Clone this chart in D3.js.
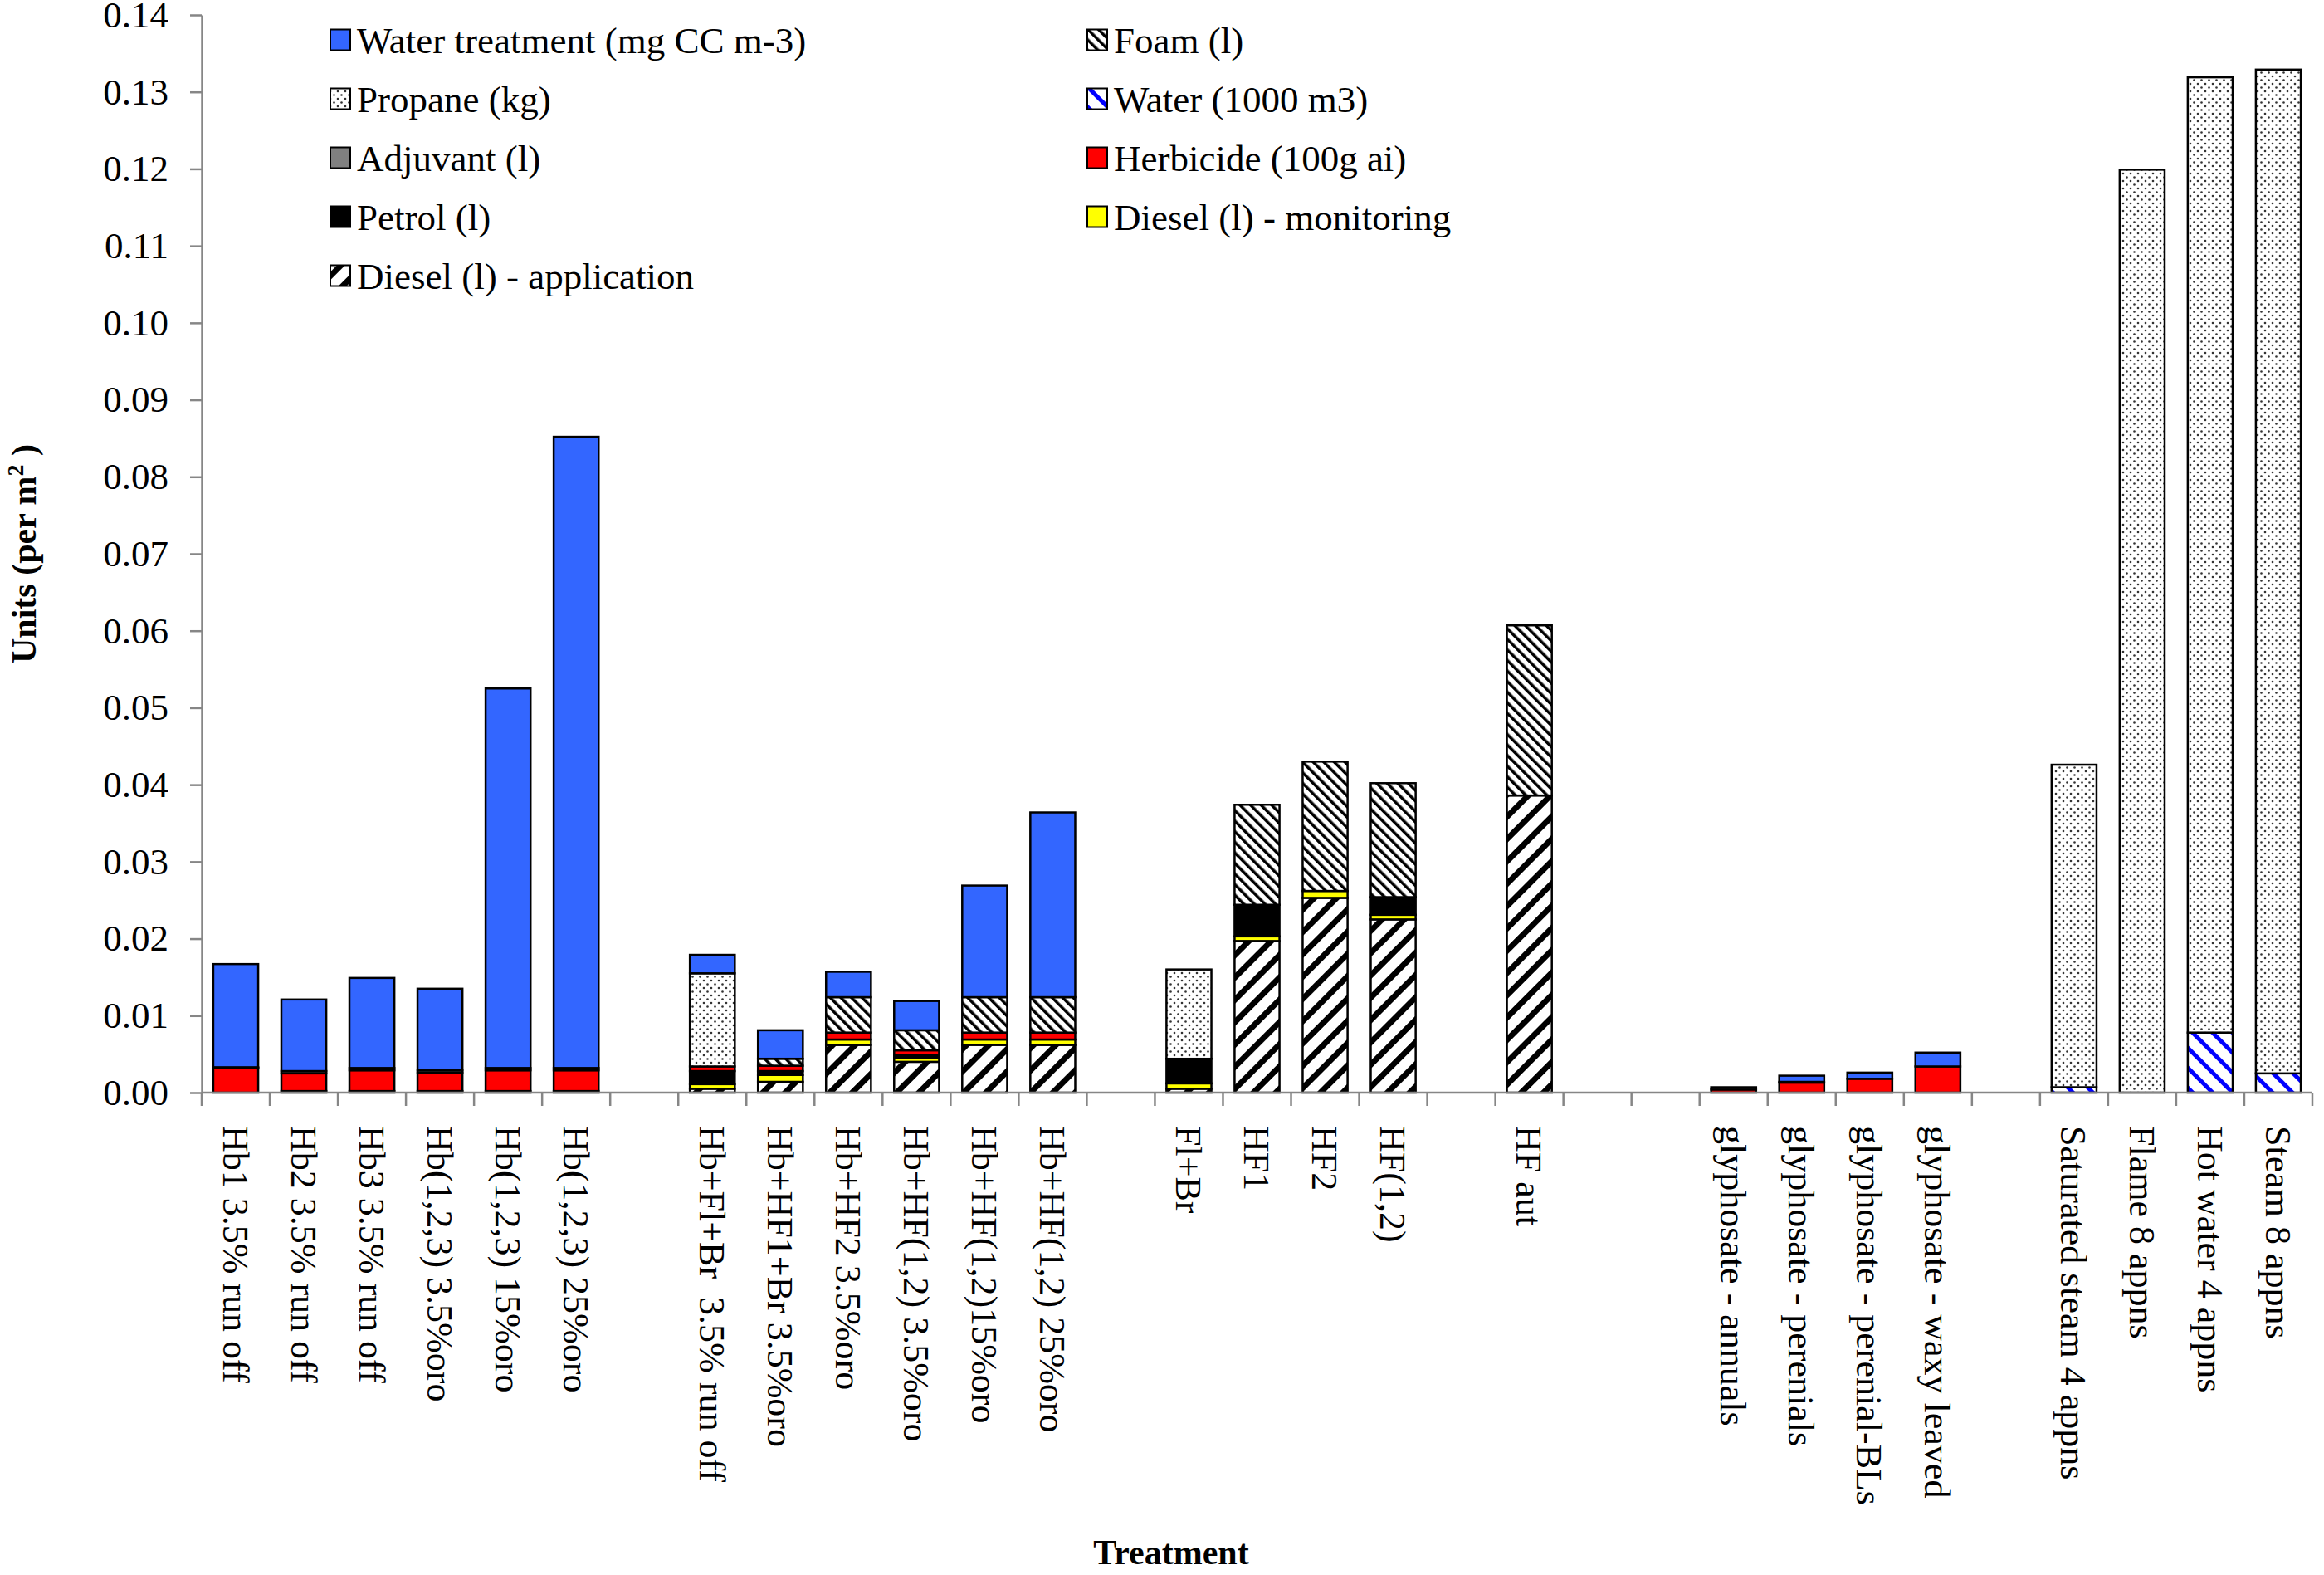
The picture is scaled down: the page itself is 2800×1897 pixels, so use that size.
<!DOCTYPE html>
<html>
<head>
<meta charset="utf-8">
<script src="https://cdn.jsdelivr.net/npm/d3@7"></script>
<style>
  body { margin: 0; background: #fff; }
  text { font-family: "Liberation Serif", "Times New Roman", serif; }
</style>
</head>
<body>
<svg id="chart"></svg>
<script>
// categories, "" = empty slot between groups
const categories = [
  "Hb1 3.5% run off", "Hb2 3.5% run off", "Hb3 3.5% run off", "Hb(1,2,3) 3.5%oro",
  "Hb(1,2,3) 15%oro", "Hb(1,2,3) 25%oro", "",
  "Hb+Fl+Br  3.5% run off", "Hb+HF1+Br 3.5%oro", "Hb+HF2 3.5%oro", "Hb+HF(1,2) 3.5%oro",
  "Hb+HF(1,2)15%oro", "Hb+HF(1,2) 25%oro", "",
  "Fl+Br", "HF1", "HF2", "HF(1,2)", "",
  "HF aut", "", "",
  "glyphosate - annuals", "glyphosate - perenials", "glyphosate - perenial-BLs",
  "glyphosate - waxy leaved", "",
  "Saturated steam 4 appns", "Flame 8 appns", "Hot water 4 appns", "Steam 8 appns"
];

// series values (units per m2), one per category
const dieselApp = [0, 0, 0, 0, 0, 0, 0, 0.0005, 0.0014, 0.0062, 0.0040, 0.0062, 0.0062, 0,
  0.0005, 0.0197, 0.0253, 0.0225, 0, 0.0386, 0, 0, 0, 0, 0, 0, 0, 0, 0, 0, 0];
const dieselMon = [0, 0, 0, 0, 0, 0, 0, 0.0006, 0.0009, 0.0007, 0.0005, 0.0007, 0.0007, 0,
  0.0007, 0.0006, 0.0009, 0.0006, 0, 0, 0, 0, 0, 0, 0, 0, 0, 0, 0, 0, 0];
const petrol = [0, 0.0002, 0.0002, 0.0002, 0.0002, 0.0002, 0, 0.0017, 0.0005, 0, 0.0004, 0, 0, 0,
  0.0032, 0.0041, 0, 0.0023, 0, 0, 0, 0, 0, 0, 0, 0, 0, 0, 0, 0, 0];
const herbicide = [0.0032, 0.0023, 0.0027, 0.0024, 0.0027, 0.0027, 0, 0.0006, 0.0007, 0.0009, 0.0006, 0.0009, 0.0009, 0,
  0, 0, 0, 0, 0, 0, 0, 0, 0.0004, 0.0013, 0.0018, 0.0034, 0, 0, 0, 0, 0];
const adjuvant = [0.0001, 0.0003, 0.0003, 0.0003, 0.0003, 0.0003, 0, 0, 0, 0, 0, 0, 0, 0,
  0, 0, 0, 0, 0, 0, 0, 0, 0.0003, 0.0001, 0, 0, 0, 0, 0, 0, 0];
const water = [0, 0, 0, 0, 0, 0, 0, 0, 0, 0, 0, 0, 0, 0,
  0, 0, 0, 0, 0, 0, 0, 0, 0, 0, 0, 0, 0, 0.0007, 0, 0.0078, 0.0025];
const propane = [0, 0, 0, 0, 0, 0, 0, 0.0121, 0, 0, 0, 0, 0, 0,
  0.0116, 0, 0, 0, 0, 0, 0, 0, 0, 0, 0, 0, 0, 0.0419, 0.1199, 0.1241, 0.1304];
const foam = [0, 0, 0, 0, 0, 0, 0, 0, 0.0009, 0.0046, 0.0026, 0.0046, 0.0046, 0,
  0, 0.0130, 0.0168, 0.0148, 0, 0.0221, 0, 0, 0, 0, 0, 0, 0, 0, 0, 0, 0];
const waterTreatment = [0.0134, 0.0093, 0.0117, 0.0106, 0.0493, 0.0820, 0, 0.0024, 0.0037, 0.0033, 0.0038, 0.0145, 0.0240, 0,
  0, 0, 0, 0, 0, 0, 0, 0, 0, 0.0008, 0.0008, 0.0018, 0, 0, 0, 0, 0];

const yTicks = [0, 0.01, 0.02, 0.03, 0.04, 0.05, 0.06, 0.07, 0.08, 0.09, 0.10, 0.11, 0.12, 0.13, 0.14];

// stack order, bottom to top
const keys = ["dieselApp", "dieselMon", "petrol", "herbicide", "adjuvant", "water", "propane", "foam", "waterTreatment"];
const seriesData = { dieselApp, dieselMon, petrol, herbicide, adjuvant, water, propane, foam, waterTreatment };
const labels = {
  waterTreatment: "Water treatment (mg CC m-3)", foam: "Foam (l)",
  propane: "Propane (kg)", water: "Water (1000 m3)",
  adjuvant: "Adjuvant (l)", herbicide: "Herbicide (100g ai)",
  petrol: "Petrol (l)", dieselMon: "Diesel (l) - monitoring",
  dieselApp: "Diesel (l) - application"
};
const legendOrder = ["waterTreatment", "foam", "propane", "water", "adjuvant", "herbicide", "petrol", "dieselMon", "dieselApp"];

const fills = {
  dieselApp: "url(#diagUp)", dieselMon: "#ffff00", petrol: "#000000", herbicide: "#ff0000",
  adjuvant: "#808080", water: "url(#waterHatch)", propane: "url(#dots)", foam: "url(#foamHatch)",
  waterTreatment: "#3366ff"
};

const width = 2800, height = 1897;
const axisColor = "#868686";

const svg = d3.select("#chart").attr("width", width).attr("height", height);
svg.append("rect").attr("width", width).attr("height", height).attr("fill", "#fff");

// patterns
const defs = svg.append("defs");
const dots = defs.append("pattern").attr("id", "dots").attr("patternUnits", "userSpaceOnUse")
  .attr("width", 9).attr("height", 9);
dots.append("rect").attr("width", 9).attr("height", 9).attr("fill", "#fff");
dots.append("circle").attr("cx", 2).attr("cy", 2).attr("r", 1.3).attr("fill", "#333");
dots.append("circle").attr("cx", 6.5).attr("cy", 6.5).attr("r", 1.3).attr("fill", "#333");

function hatch(id, size, thick, color, angle) {
  const p = defs.append("pattern").attr("id", id).attr("patternUnits", "userSpaceOnUse")
    .attr("width", size).attr("height", size).attr("patternTransform", `rotate(${angle})`);
  p.append("rect").attr("width", size).attr("height", size).attr("fill", "#fff");
  p.append("rect").attr("width", thick).attr("height", size).attr("fill", color);
}
hatch("diagUp", 19, 7, "#000", 45);
hatch("foamHatch", 9, 3.5, "#000", -45);
hatch("waterHatch", 17, 5, "#0000ff", -45);

// scales
const x = d3.scaleBand()
  .domain(d3.range(categories.length))
  .range([243, 2786])
  .paddingInner(0.34)
  .paddingOuter(0.17);

const y = d3.scaleLinear()
  .domain([0, 0.14])
  .range([1316, 18]);

// bars
const table = categories.map((c, i) => {
  const row = { i };
  keys.forEach(k => row[k] = seriesData[k][i]);
  return row;
});
const stacked = d3.stack().keys(keys)(table);

svg.append("g").selectAll("g")
  .data(stacked)
  .enter().append("g")
  .attr("fill", d => fills[d.key])
  .selectAll("rect")
  .data(d => d.filter(s => s[1] - s[0] > 0))
  .enter().append("rect")
  .attr("x", d => x(d.data.i))
  .attr("y", d => y(d[1]))
  .attr("width", x.bandwidth())
  .attr("height", d => y(d[0]) - y(d[1]))
  .attr("stroke", "#000")
  .attr("stroke-width", 2.5);

// y axis
const yAxis = svg.append("g")
  .attr("transform", `translate(${x.range()[0]},0)`)
  .call(d3.axisLeft(y).tickValues(yTicks).tickFormat(d3.format(".2f"))
    .tickSize(14).tickSizeOuter(0).tickPadding(26));
yAxis.select(".domain").attr("stroke", axisColor).attr("stroke-width", 2.5);
yAxis.selectAll(".tick line").attr("stroke", axisColor).attr("stroke-width", 2.5);
yAxis.selectAll(".tick text").attr("font-size", 45).attr("fill", "#000")
  .attr("font-family", "Liberation Serif, Times New Roman, serif");

// x axis line with ticks at category boundaries
const x0 = x.range()[0], x1 = x.range()[1];
const xAxis = svg.append("g");
xAxis.append("line").attr("x1", x0).attr("x2", x1).attr("y1", y(0)).attr("y2", y(0))
  .attr("stroke", axisColor).attr("stroke-width", 2.5);
xAxis.selectAll("line.tick")
  .data(d3.range(categories.length + 1))
  .enter().append("line")
  .attr("class", "tick")
  .attr("x1", i => x0 + i * x.step()).attr("x2", i => x0 + i * x.step())
  .attr("y1", y(0)).attr("y2", y(0) + 16)
  .attr("stroke", axisColor).attr("stroke-width", 2.5);

xAxis.selectAll("text")
  .data(categories.map((c, i) => ({ c, i })).filter(d => d.c !== ""))
  .enter().append("text")
  .attr("transform", d => `translate(${x(d.i) + x.bandwidth() / 2},1356) rotate(90)`)
  .attr("dy", "0.35em")
  .attr("font-size", 44)
  .attr("fill", "#000")
  .style("white-space", "pre")
  .text(d => d.c);

// axis titles
const yTitle = svg.append("text")
  .attr("transform", "translate(43,667) rotate(-90)")
  .attr("text-anchor", "middle")
  .attr("font-size", 42)
  .attr("font-weight", "bold");
yTitle.append("tspan").text("Units (per m");
yTitle.append("tspan").attr("baseline-shift", "super").attr("font-size", 28).text("2");
yTitle.append("tspan").text(" )");

svg.append("text")
  .attr("x", 1411).attr("y", 1884)
  .attr("text-anchor", "middle")
  .attr("font-size", 42)
  .attr("font-weight", "bold")
  .text("Treatment");

// legend
const legend = svg.append("g");
legendOrder.forEach((k, n) => {
  const col = n % 2, row = Math.floor(n / 2);
  const cy = 48 + row * 71;
  const sx = col ? 1310 : 398;
  legend.append("rect")
    .attr("x", sx).attr("y", cy - 12.5).attr("width", 24).attr("height", 25)
    .attr("fill", fills[k]).attr("stroke", "#000").attr("stroke-width", 2);
  legend.append("text")
    .attr("x", sx + 32).attr("y", cy).attr("dy", "0.35em")
    .attr("font-size", 45)
    .text(labels[k]);
});
</script>
</body>
</html>
